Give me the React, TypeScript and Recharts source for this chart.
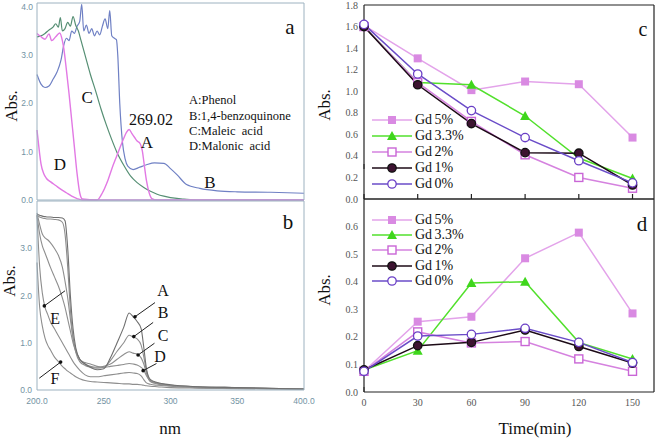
import React from 'react';
import { LineChart, Line, XAxis, YAxis, ReferenceDot, ReferenceLine } from 'recharts';

const SERIF = '"Liberation Serif", "Times New Roman", serif';
const SANS = '"Liberation Sans", Arial, sans-serif';

// (a) reference spectra of the standards
const phenolNm = [200, 203, 206, 209, 211, 214, 217, 219, 220, 222, 224, 226, 228, 230, 232, 234, 245, 249, 253, 257, 261, 265, 267, 269, 271, 273, 275, 277, 279, 280, 282, 284, 286, 290, 400];
const phenolAbs = [3.45, 3.38, 3.33, 3.44, 3.3, 3.38, 3.46, 3.3, 3.15, 2.7, 2.2, 1.65, 1.1, 0.55, 0.15, 0.02, 0, 0.15, 0.4, 0.72, 1.0, 1.28, 1.4, 1.46, 1.38, 1.3, 1.22, 1.18, 1.0, 0.8, 0.4, 0.15, 0.03, 0, 0];
const quinoneNm = [200, 203, 206, 209, 212, 215, 218, 220, 222, 224, 226, 228, 230, 232, 233.5, 235, 237, 239, 241, 243, 245, 247, 249, 251, 253, 254.5, 256, 258, 259.5, 260.5, 262, 264, 266, 268, 272, 277, 282, 288, 295, 300, 305, 312, 322, 335, 350, 375, 400];
const quinoneAbs = [2.6, 2.4, 2.33, 2.36, 2.5, 2.65, 2.9, 3.2, 3.35, 3.3, 3.5, 3.45, 3.6, 3.7, 4.05, 3.5, 3.62, 3.45, 3.55, 3.4, 3.5, 3.42, 3.6, 3.75, 3.55, 3.92, 3.4, 3.35, 3.32, 3.0, 2.0, 1.2, 0.85, 0.7, 0.63, 0.68, 0.73, 0.77, 0.76, 0.65, 0.52, 0.32, 0.24, 0.19, 0.17, 0.16, 0.14];
const maleicNm = [200, 203, 206, 209, 212, 214, 216, 217.5, 219, 221, 223, 225, 227, 229, 231, 233, 236, 240, 244, 248, 252, 256, 260, 265, 270, 275, 280, 285, 290, 295, 300, 310, 320, 400];
const maleicAbs = [3.38, 3.4, 3.45, 3.52, 3.58, 3.65, 3.58, 3.78, 3.5, 3.55, 3.68, 3.6, 3.8, 3.62, 3.5, 3.3, 3.0, 2.6, 2.25, 1.88, 1.55, 1.25, 0.98, 0.72, 0.5, 0.36, 0.26, 0.18, 0.12, 0.08, 0.05, 0.02, 0, 0];
const malonicNm = [200, 201, 202, 203, 205, 207, 210, 214, 218, 222, 226, 230, 234, 400];
const malonicAbs = [1.45, 1.2, 0.95, 0.75, 0.55, 0.45, 0.38, 0.3, 0.22, 0.15, 0.08, 0.03, 0, 0];

// (b) spectra during degradation
const scanNm = [200, 202, 204, 206, 208, 210, 213, 216, 219, 221, 223, 225, 227, 229, 232, 236, 240, 245, 250, 255, 260, 265, 269, 272, 275, 278, 280, 282, 285, 290, 300, 320, 350, 400];
const scanA = [3.72, 3.7, 3.68, 3.67, 3.66, 3.66, 3.65, 3.65, 3.64, 3.58, 3.0, 2.0, 1.3, 0.9, 0.65, 0.55, 0.48, 0.43, 0.45, 0.68, 1.0, 1.33, 1.63, 1.55, 1.45, 1.3, 0.9, 0.45, 0.22, 0.16, 0.11, 0.07, 0.05, 0.02];
const scanB = [3.7, 3.66, 3.64, 3.63, 3.62, 3.62, 3.61, 3.6, 3.55, 3.3, 2.6, 1.7, 1.1, 0.8, 0.6, 0.52, 0.48, 0.46, 0.48, 0.62, 0.82, 1.0, 1.16, 1.12, 1.08, 0.95, 0.7, 0.4, 0.2, 0.15, 0.1, 0.07, 0.05, 0.02];
const scanC = [3.75, 3.5, 3.3, 3.22, 3.18, 3.12, 3.0, 2.85, 2.6, 2.3, 1.95, 1.5, 1.1, 0.85, 0.65, 0.55, 0.5, 0.48, 0.5, 0.55, 0.65, 0.75, 0.81, 0.78, 0.76, 0.68, 0.55, 0.35, 0.18, 0.14, 0.1, 0.07, 0.05, 0.02];
const scanD = [3.7, 3.3, 3.05, 2.9, 2.75, 2.6, 2.4, 2.2, 1.95, 1.75, 1.5, 1.25, 1.0, 0.82, 0.65, 0.58, 0.55, 0.5, 0.48, 0.5, 0.52, 0.54, 0.56, 0.55, 0.53, 0.48, 0.42, 0.3, 0.18, 0.13, 0.09, 0.06, 0.04, 0.02];
const scanE = [3.7, 2.6, 2.05, 1.75, 1.6, 1.45, 1.3, 1.15, 1.0, 0.9, 0.8, 0.7, 0.6, 0.52, 0.42, 0.32, 0.28, 0.28, 0.3, 0.32, 0.34, 0.36, 0.37, 0.36, 0.35, 0.3, 0.22, 0.15, 0.12, 0.1, 0.08, 0.05, 0.04, 0.02];
const scanF = [2.7, 1.75, 1.35, 1.1, 0.95, 0.85, 0.7, 0.6, 0.5, 0.45, 0.4, 0.36, 0.32, 0.28, 0.24, 0.2, 0.18, 0.17, 0.16, 0.15, 0.14, 0.13, 0.13, 0.12, 0.12, 0.11, 0.1, 0.09, 0.08, 0.07, 0.05, 0.04, 0.03, 0.01];

// (c), (d) absorbance vs time
const timeMin = [0, 30, 60, 90, 120, 150];
const cGd5 = [1.61, 1.305, 1.01, 1.09, 1.065, 0.57];
const cGd33 = [1.6, 1.08, 1.06, 0.77, 0.38, 0.19];
const cGd2 = [1.6, 1.08, 0.72, 0.41, 0.2, 0.1];
const cGd1 = [1.6, 1.06, 0.7, 0.43, 0.425, 0.13];
const cGd0 = [1.62, 1.16, 0.82, 0.57, 0.355, 0.15];
const dGd5 = [0.075, 0.255, 0.273, 0.485, 0.578, 0.285];
const dGd33 = [0.08, 0.15, 0.395, 0.4, 0.18, 0.12];
const dGd2 = [0.075, 0.218, 0.178, 0.183, 0.12, 0.075];
const dGd1 = [0.08, 0.168, 0.18, 0.225, 0.165, 0.105];
const dGd0 = [0.075, 0.203, 0.209, 0.231, 0.18, 0.107];

const nmTicks = [200, 250, 300, 350, 400];
const timeMajor = [0, 30, 60, 90, 120, 150];
const timeMinor = [15, 45, 75, 105, 135];
const cMajor = [0, 0.2, 0.4, 0.6, 0.8, 1.0, 1.2, 1.4, 1.6, 1.8];
const cMinor = [0.1, 0.3, 0.5, 0.7, 0.9, 1.1, 1.3, 1.5, 1.7];
const dMajor = [0, 0.1, 0.2, 0.3, 0.4, 0.5, 0.6];
const dMinor = [0.05, 0.15, 0.25, 0.35, 0.45, 0.55, 0.65];

const pairs = (xs: number[], ys: number[]) => xs.map((x, i) => ({ x, y: ys[i] }));
const rows = (cols: number[][]) =>
  timeMin.map((t, i) => ({ t, g5: cols[0][i], g33: cols[1][i], g2: cols[2][i], g1: cols[3][i], g0: cols[4][i] }));
const cRows = rows([cGd5, cGd33, cGd2, cGd1, cGd0]);
const dRows = rows([dGd5, dGd33, dGd2, dGd1, dGd0]);

const frameAB = '#9db2c0';
const tickAB = { fontSize: 8.5, fill: '#7393a3', fontFamily: SANS };
const tickCD = { fontSize: 10, fill: '#555', fontFamily: SERIF };
const pink = '#e279e4';

const gdStyles = [
  { key: 'g5', name: 'Gd 5%', line: '#e3a3ea', color: '#d98ae2', shape: 'square', filled: true },
  { key: 'g33', name: 'Gd 3.3%', line: '#52e02c', color: '#3fd61c', shape: 'triangle', filled: true },
  { key: 'g2', name: 'Gd 2%', line: '#d582df', color: '#c966d6', shape: 'square', filled: false },
  { key: 'g1', name: 'Gd 1%', line: '#1c0a16', color: '#3d1331', shape: 'circle', filled: true },
  { key: 'g0', name: 'Gd 0%', line: '#6a4cc8', color: '#6a3fc6', shape: 'circle', filled: false },
];

function marker(s: any, cx: number, cy: number) {
  if (s.shape === 'square')
    return <rect x={cx - 4} y={cy - 4} width={8} height={8} fill={s.filled ? s.color : '#fff'} stroke={s.color} strokeWidth={s.filled ? 0 : 1.4} />;
  if (s.shape === 'triangle')
    return <polygon points={`${cx},${cy - 5} ${cx - 5},${cy + 4} ${cx + 5},${cy + 4}`} fill={s.color} />;
  return <circle cx={cx} cy={cy} r={4.2} fill={s.filled ? s.color : '#fff'} stroke={s.filled ? '#111' : s.color} strokeWidth={1.3} />;
}

function GdLegend({ rowH }: { rowH: number }) {
  return (
    <div>
      {gdStyles.map((s) => (
        <div key={s.key} style={{ display: 'flex', alignItems: 'center', height: rowH }}>
          <svg width={40} height={12}>
            <line x1={0} y1={6} x2={40} y2={6} stroke={s.line} strokeWidth={1.5} />
            {marker(s, 20, 6)}
          </svg>
          <span style={{ marginLeft: 3, wordSpacing: -1, fontFamily: SERIF, fontSize: 14, color: '#111', lineHeight: 1 }}>{s.name}</span>
        </div>
      ))}
    </div>
  );
}

// text pinned to a data point
function note(key: string, x: number, y: number, text: string, size: number, anchor = 'middle') {
  return (
    <ReferenceDot
      key={key}
      x={x}
      y={y}
      r={0}
      xAxisId="x"
      yAxisId="y"
      fill="none"
      stroke="none"
      ifOverflow="visible"
      label={{
        content: (p: any) => (
          <text x={p.viewBox.x} y={p.viewBox.y} textAnchor={anchor} dominantBaseline="central" fontFamily={SERIF} fontSize={size} fill="#111" style={{ whiteSpace: 'pre' }}>
            {text}
          </text>
        ),
      }}
    />
  );
}

function arrow(key: string, from: [number, number], tip: [number, number]) {
  return [
    <ReferenceLine key={key + 'l'} xAxisId="x" yAxisId="y" ifOverflow="visible" stroke="#222" strokeWidth={1} segment={[{ x: from[0], y: from[1] }, { x: tip[0], y: tip[1] }]} />,
    <ReferenceDot key={key + 'd'} xAxisId="x" yAxisId="y" ifOverflow="visible" x={tip[0]} y={tip[1]} r={1.8} fill="#111" stroke="none" />,
  ];
}

function Txt({ x, y, size, rotate, children }: any) {
  return (
    <div
      style={{
        position: 'absolute', left: x, top: y, fontFamily: SERIF, fontSize: size, color: '#111', whiteSpace: 'nowrap',
        transform: `translate(-50%, -50%)${rotate ? ' rotate(-90deg)' : ''}`, lineHeight: 1,
      }}
    >
      {children}
    </div>
  );
}

function cdChart(data: any[], yDomain: number[], major: number[], minor: number[], withLabels: boolean, height: number, margin: any) {
  return (
    <LineChart width={331} height={height} data={data} margin={margin}>
      {withLabels ? (
        <XAxis xAxisId="x" dataKey="t" type="number" domain={[0, 162]} ticks={timeMajor} interval={0} height={46}
          stroke="#222" strokeWidth={1.2} tickLine={false} tickSize={0} tickMargin={7} tick={tickCD} />
      ) : (
        <XAxis xAxisId="x" dataKey="t" type="number" domain={[0, 162]} ticks={timeMajor} interval={0} mirror
          stroke="#222" strokeWidth={1.2} tickSize={5} tickFormatter={() => ''} />
      )}
      <XAxis xAxisId="xmaj" type="number" domain={[0, 162]} ticks={timeMajor} interval={0} mirror axisLine={false} stroke="#222" tickSize={5} tickFormatter={() => ''} />
      <XAxis xAxisId="xmin" type="number" domain={[0, 162]} ticks={timeMinor} interval={0} mirror axisLine={false} stroke="#222" tickSize={3} tickFormatter={() => ''} />
      <XAxis xAxisId="top" orientation="top" type="number" domain={[0, 162]} mirror tick={false} tickLine={false} stroke="#222" strokeWidth={1.2} />
      <YAxis yAxisId="y" type="number" domain={yDomain} ticks={major} interval={0} width={34} stroke="#222" strokeWidth={1.2}
        tickLine={false} tickSize={0} tickMargin={6} tick={tickCD} tickFormatter={(v: number) => v.toFixed(1)} />
      <YAxis yAxisId="ymaj" type="number" domain={yDomain} ticks={major} interval={0} mirror axisLine={false} stroke="#222" tickSize={5} tickFormatter={() => ''} />
      <YAxis yAxisId="ymin" type="number" domain={yDomain} ticks={minor} interval={0} mirror axisLine={false} stroke="#222" tickSize={3} tickFormatter={() => ''} />
      <YAxis yAxisId="right" orientation="right" type="number" domain={yDomain} mirror tick={false} tickLine={false} stroke="#222" strokeWidth={1.2} />
      {gdStyles.map((s) => (
        <Line key={s.key} xAxisId="x" yAxisId="y" type="linear" dataKey={s.key} name={s.name} stroke={s.line} strokeWidth={1.5}
          isAnimationActive={false}
          dot={(p: any) => <g key={`${s.key}-${p.index}`}>{marker(s, p.cx, p.cy)}</g>} />
      ))}
    </LineChart>
  );
}

export default function App() {
  const spec = (xs: number[], ys: number[], color: string, key: string, w = 1.2) => (
    <Line key={key} data={pairs(xs, ys)} dataKey="y" xAxisId="x" yAxisId="y" type="monotone" stroke={color} strokeWidth={w} dot={false} isAnimationActive={false} />
  );
  const scans = [scanF, scanE, scanD, scanC, scanB, scanA];

  return (
    <div style={{ position: 'absolute', left: 0, top: 0, width: 661, height: 438, background: '#fff', overflow: 'hidden' }}>
      {/* panel a */}
      <div style={{ position: 'absolute', left: 0, top: 0 }}>
        <LineChart width={310} height={206} margin={{ top: 3, right: 6, bottom: 6, left: 0 }}>
          <XAxis xAxisId="x" dataKey="x" type="number" domain={[200, 400]} mirror tick={false} tickLine={false} stroke={frameAB} />
          <XAxis xAxisId="top" orientation="top" type="number" domain={[200, 400]} mirror tick={false} tickLine={false} stroke={frameAB} />
          <YAxis yAxisId="y" type="number" domain={[0, 4.08]} ticks={[0, 1, 2, 3, 4]} interval={0} width={37} stroke={frameAB}
            tickLine={false} tickSize={0} tickMargin={4} tick={tickAB} tickFormatter={(v: number) => v.toFixed(1)} />
          <YAxis yAxisId="right" orientation="right" type="number" domain={[0, 4.08]} mirror tick={false} tickLine={false} stroke={frameAB} />
          {spec(quinoneNm, quinoneAbs, '#6f80c4', 'b')}
          {spec(maleicNm, maleicAbs, '#568f74', 'c')}
          {spec(malonicNm, malonicAbs, pink, 'd', 1.4)}
          {spec(phenolNm, phenolAbs, pink, 'a', 1.4)}
          {note('n269', 285.4, 1.66, '269.02', 16)}
          {note('nA', 282.4, 1.2, 'A', 17)}
          {note('nB', 329.6, 0.37, 'B', 17)}
          {note('nC', 237.5, 2.13, 'C', 17)}
          {note('nD', 217.2, 0.73, 'D', 17)}
          {note('k1', 313.9, 2.07, 'A:Phenol', 12.5, 'start')}
          {note('k2', 313.9, 1.74, 'B:1,4-benzoquinone', 12.5, 'start')}
          {note('k3', 313.9, 1.42, 'C:Maleic  acid', 12.5, 'start')}
          {note('k4', 313.9, 1.11, 'D:Malonic  acid', 12.5, 'start')}
        </LineChart>
      </div>

      {/* panel b */}
      <div style={{ position: 'absolute', left: 0, top: 198 }}>
        <LineChart width={322} height={240} margin={{ top: 3, right: 18, bottom: 0, left: 0 }}>
          <XAxis xAxisId="x" dataKey="x" type="number" domain={[200, 400]} ticks={nmTicks} interval={0} height={48} stroke={frameAB}
            tickLine={false} tickSize={0} tickMargin={8} tick={tickAB} tickFormatter={(v: number) => (v === 200 || v === 400 ? v.toFixed(1) : String(v))} />
          <XAxis xAxisId="xt" type="number" domain={[200, 400]} ticks={nmTicks} interval={0} mirror axisLine={false} stroke={frameAB} tickSize={3} tickFormatter={() => ''} />
          <XAxis xAxisId="top" orientation="top" type="number" domain={[200, 400]} mirror tick={false} tickLine={false} stroke={frameAB} />
          <YAxis yAxisId="y" type="number" domain={[0, 4]} ticks={[0, 1, 2, 3]} interval={0} width={37} stroke={frameAB}
            tickLine={false} tickSize={0} tickMargin={5} tick={tickAB} tickFormatter={(v: number) => v.toFixed(1)} />
          <YAxis yAxisId="right" orientation="right" type="number" domain={[0, 4]} mirror tick={false} tickLine={false} stroke={frameAB} />
          {scans.map((ys, i) => spec(scanNm, ys, i === 5 ? '#6f6f6f' : '#8e8e8e', 's' + i, 1.1))}
          {arrow('aA', [288.4, 1.85], [273.4, 1.55])}
          {arrow('aB', [287, 1.43], [272.5, 1.13])}
          {arrow('aC', [288, 0.99], [275.7, 0.74])}
          {arrow('aD', [289.5, 0.56], [279.5, 0.41])}
          {arrow('aE', [221, 2.1], [205.5, 1.78])}
          {arrow('aF', [201.7, 0.25], [217.7, 0.59])}
          {note('lA', 294.4, 2.11, 'A', 16)}
          {note('lB', 294.4, 1.63, 'B', 16)}
          {note('lC', 294.4, 1.16, 'C', 16)}
          {note('lD', 292.1, 0.7, 'D', 16)}
          {note('lE', 213.5, 1.52, 'E', 16)}
          {note('lF', 213.5, 0.25, 'F', 16)}
        </LineChart>
      </div>

      {/* panel c */}
      <div style={{ position: 'absolute', left: 330, top: 0 }}>
        {cdChart(cRows, [0, 1.8], cMajor, cMinor, false, 207, { top: 5, right: 7, bottom: 8, left: 0 })}
        <div style={{ position: 'absolute', left: 42, top: 112 }}>
          <GdLegend rowH={16} />
        </div>
      </div>

      {/* panel d */}
      <div style={{ position: 'absolute', left: 330, top: 196 }}>
        {cdChart(dRows, [0, 0.7], dMajor, dMinor, true, 242, { top: 3, right: 7, bottom: 0, left: 0 })}
        <div style={{ position: 'absolute', left: 42, top: 16 }}>
          <GdLegend rowH={15.3} />
        </div>
      </div>

      <Txt x={11} y={106} size={17} rotate>Abs.</Txt>
      <Txt x={9} y={281} size={17} rotate>Abs.</Txt>
      <Txt x={324} y={105} size={17} rotate>Abs.</Txt>
      <Txt x={324} y={290} size={17} rotate>Abs.</Txt>
      <Txt x={170} y={428} size={17}>nm</Txt>
      <Txt x={535} y={428} size={17}>Time(min)</Txt>
      <Txt x={290} y={27} size={21}>a</Txt>
      <Txt x={288} y={222} size={21}>b</Txt>
      <Txt x={643} y={29} size={20}>c</Txt>
      <Txt x={642} y={224} size={21}>d</Txt>
    </div>
  );
}
